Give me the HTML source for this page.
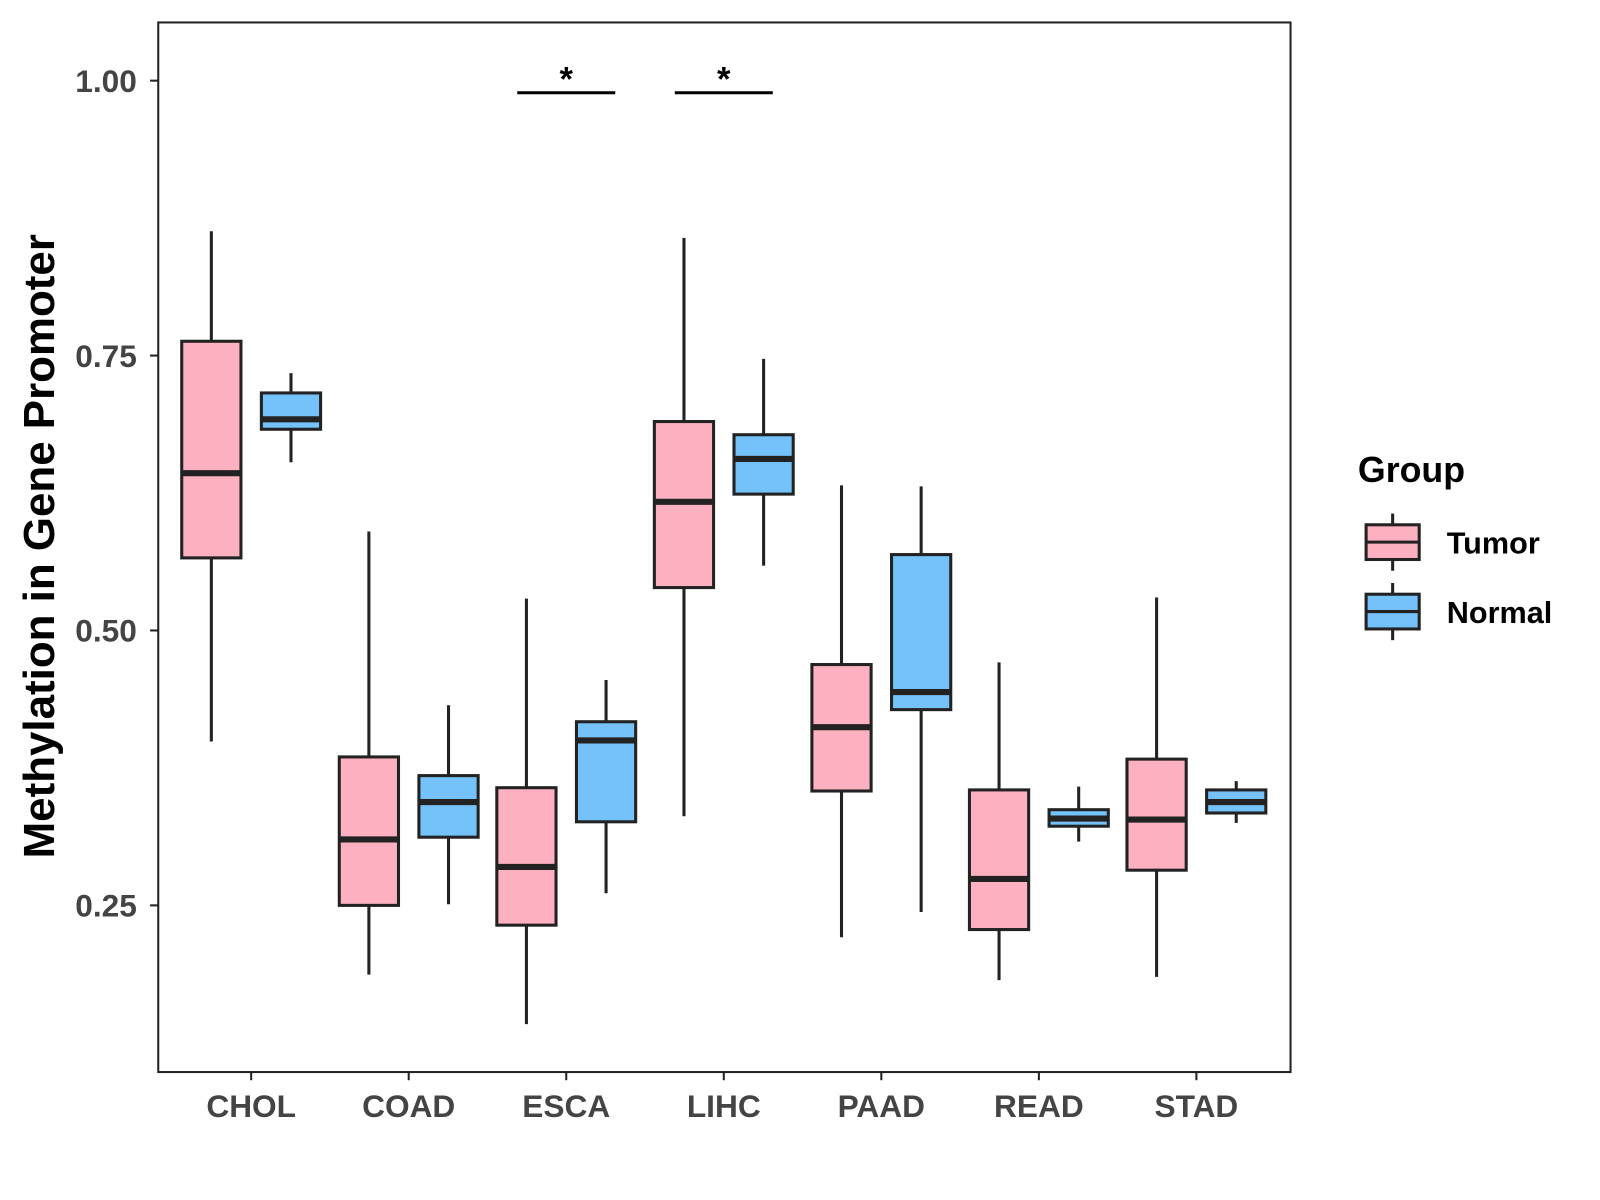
<!DOCTYPE html>
<html><head><meta charset="utf-8"><style>
body{margin:0;background:#fff}
svg{display:block;font-family:"Liberation Sans",Arial,sans-serif}
</style></head><body>
<svg id="chart" width="1600" height="1200">
<g transform="scale(1.021)">
<rect x="155" y="22" width="1109" height="1028" fill="#fff" stroke="#222" stroke-width="2"/>
<g id="axes"></g><g id="boxes"></g>
<text transform="translate(53,535) rotate(-90)" text-anchor="middle" font-size="43" font-weight="bold" fill="#000">Methylation in Gene Promoter</text>
<g>
<text x="1330" y="472" font-size="35" font-weight="bold">Group</text>
<g>
<line x1="1364" y1="503" x2="1364" y2="559" stroke="#222" stroke-width="3"/>
<rect x="1338" y="514" width="52" height="34" fill="#FDB0C0" stroke="#222" stroke-width="3"/>
<line x1="1338" y1="531" x2="1390" y2="531" stroke="#222" stroke-width="3"/>
<text x="1417" y="542" font-size="30" font-weight="bold">Tumor</text></g>
<g>
<line x1="1364" y1="571" x2="1364" y2="627" stroke="#222" stroke-width="3"/>
<rect x="1338" y="582" width="52" height="34" fill="#75C1F9" stroke="#222" stroke-width="3"/>
<line x1="1338" y1="599" x2="1390" y2="599" stroke="#222" stroke-width="3"/>
<text x="1417" y="610" font-size="30" font-weight="bold">Normal</text></g>
</g>
</g>
</svg>
<script>
const categories=["CHOL","COAD","ESCA","LIHC","PAAD","READ","STAD"];
// [low, q1, median, q3, high]
const tumorStats=[[0.399,0.566,0.643,0.763,0.863],[0.187,0.250,0.310,0.385,0.590],[0.142,0.232,0.285,0.357,0.529],[0.331,0.539,0.617,0.690,0.857],[0.221,0.354,0.412,0.469,0.632],[0.182,0.228,0.274,0.355,0.471],[0.185,0.282,0.328,0.383,0.530]];
const normalStats=[[0.653,0.683,0.692,0.716,0.734],[0.251,0.312,0.344,0.368,0.432],[0.261,0.326,0.400,0.417,0.455],[0.559,0.624,0.656,0.678,0.747],[0.244,0.428,0.444,0.569,0.631],[0.308,0.322,0.329,0.337,0.358],[0.325,0.334,0.344,0.355,0.363]];
const yTicks=[0.25,0.50,0.75,1.00];
const yTickLabels=["0.25","0.50","0.75","1.00"];
const sigCategories=["ESCA","LIHC"];
const sigValue=0.989;
const NS="http://www.w3.org/2000/svg";
function y(v){return 79+(1-v)*1077;}
function x(i){return 246+i*154.3;}
function mk(tag,attrs,parent){const e=document.createElementNS(NS,tag);for(const k in attrs)e.setAttribute(k,attrs[k]);parent.appendChild(e);return e;}
const axes=document.getElementById('axes'),boxes=document.getElementById('boxes');
yTicks.forEach((t,i)=>{
 const l=mk('line',{x1:147,x2:155,y1:y(t),y2:y(t),stroke:'#222','stroke-width':2},axes);
 
 
 const tx=mk('text',{x:134,y:y(t)+11,'text-anchor':'end','font-size':31,'font-weight':'bold',fill:'#444'},axes);
 tx.textContent=yTickLabels[i];
 
 
});
categories.forEach((c,i)=>{
 const l=mk('line',{x1:x(i),x2:x(i),y1:1050,y2:1058,stroke:'#222','stroke-width':2},axes);
 
 
 const tx=mk('text',{x:x(i),y:1094,'text-anchor':'middle','font-size':31,'font-weight':'bold',fill:'#444'},axes);
 tx.textContent=c;
 
 
});
function drawBox(s,cx,fill,name){
 const g=mk('g',{},boxes);
 
 
 mk('line',{x1:cx,x2:cx,y1:y(s[4]),y2:y(s[0]),stroke:'#222','stroke-width':3},g);
 mk('rect',{x:cx-29,y:y(s[3]),width:58,height:y(s[1])-y(s[3]),fill:fill,stroke:'#222','stroke-width':3},g);
 mk('line',{x1:cx-29,x2:cx+29,y1:y(s[2]),y2:y(s[2]),stroke:'#222','stroke-width':6},g);
}
categories.forEach((c,i)=>{
 drawBox(tumorStats[i],x(i)-39,'#FDB0C0','box-tumor-'+c.toLowerCase());
 drawBox(normalStats[i],x(i)+39,'#75C1F9','box-normal-'+c.toLowerCase());
});
sigCategories.forEach(c=>{
 const i=categories.indexOf(c);
 const l=mk('line',{x1:x(i)-48,x2:x(i)+48,y1:y(sigValue),y2:y(sigValue),stroke:'#000','stroke-width':3},boxes);
 
 
 const t=mk('text',{x:x(i),y:y(sigValue)-2,'text-anchor':'middle','font-size':34,'font-weight':'bold'},boxes);
 t.textContent='*';
 
 
});
</script>
</body></html>
